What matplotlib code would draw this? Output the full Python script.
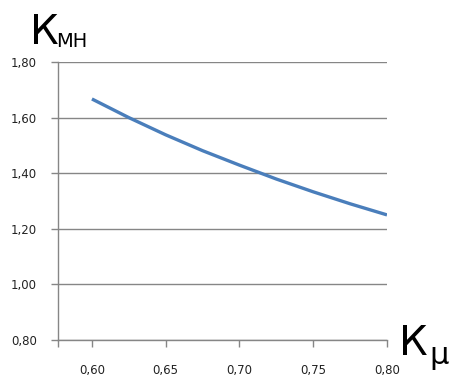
import numpy as np
import matplotlib.pyplot as plt

k_mu = [0.60, 0.625, 0.65, 0.675, 0.70, 0.725, 0.75, 0.775, 0.80]
k_mn = [1.667, 1.600, 1.538, 1.481, 1.429, 1.379, 1.333, 1.290, 1.250]
x_ticks = [0.60, 0.65, 0.70, 0.75, 0.80]
y_ticks = [0.80, 1.00, 1.20, 1.40, 1.60, 1.80]

fig = plt.figure(figsize=(4.65, 3.9), dpi=100)
ax = fig.add_axes([58/465, 1 - 340/390, (387 - 58)/465, (340 - 62)/390])

ax.plot(k_mu, k_mn, color='#4a7ebb', lw=2.4, solid_capstyle='butt')

ax.set_xlim(0.577, 0.80)
ax.set_ylim(0.80, 1.80)
ax.set_xticks(x_ticks)
ax.set_xticks([0.577], minor=True)
ax.set_yticks(y_ticks)
ax.set_xticklabels([f"{v:.2f}".replace('.', ',') for v in x_ticks])
ax.set_yticklabels([f"{v:.2f}".replace('.', ',') for v in y_ticks])
ax.tick_params(labelsize=8.5, colors='#868686', labelcolor='#222222', length=5, width=1)
ax.tick_params(axis='x', which='minor', length=5, width=1, colors='#868686')
ax.tick_params(axis='x', pad=12)
ax.tick_params(axis='y', pad=10)

ax.grid(axis='y', color='#868686', lw=1)
ax.set_axisbelow(True)
for s in ['top', 'right']:
    ax.spines[s].set_visible(False)
for s in ['left', 'bottom']:
    ax.spines[s].set_color('#868686')
    ax.spines[s].set_linewidth(1)

fig.text(30/465, 1 - 44/390, "К", fontsize=29, color='black')
fig.text(56/465, 1 - 47/390, "МН", fontsize=14, color='black')
fig.text(399/465, 1 - 355/390, "К", fontsize=29, color='black')
fig.text(429/465, 1 - 364/390, "μ", fontsize=22, color='black')

fig.savefig("out.png")
